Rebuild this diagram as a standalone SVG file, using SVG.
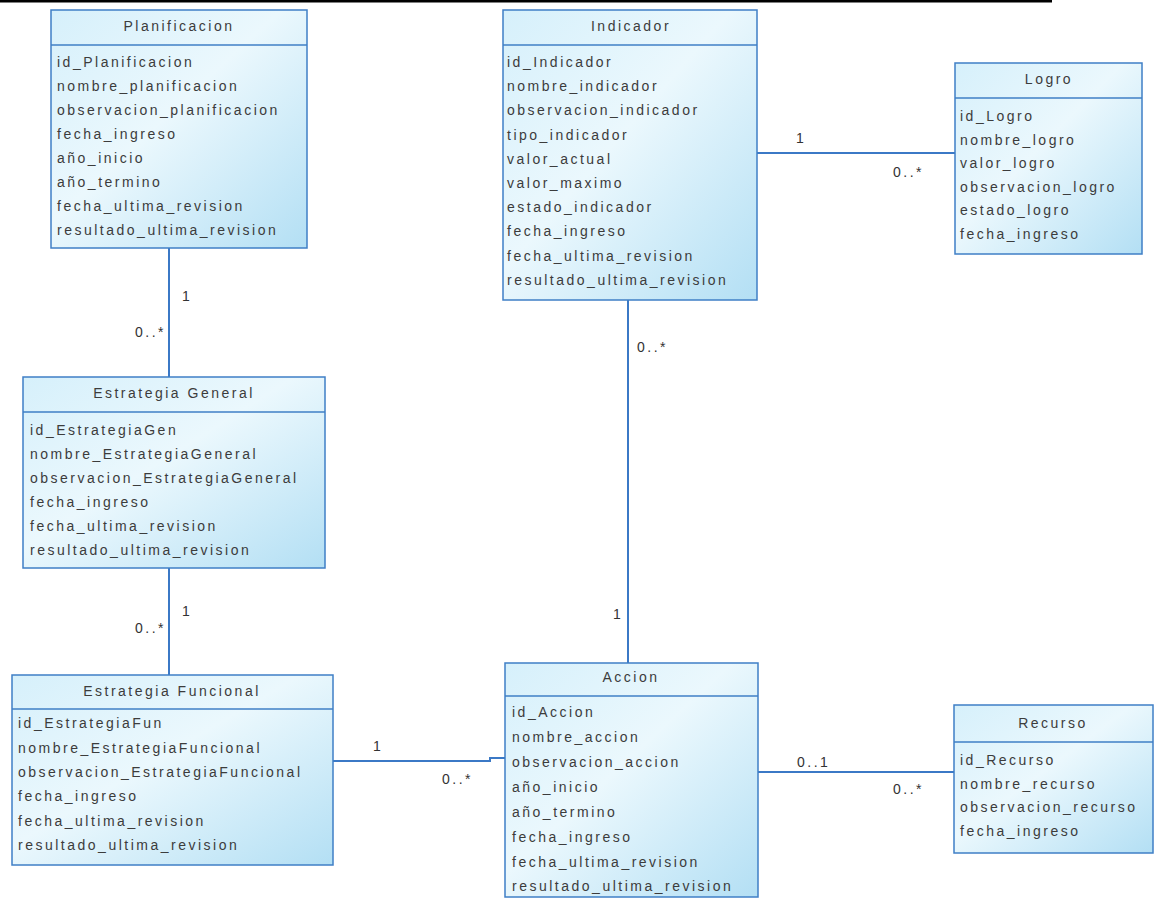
<svg xmlns="http://www.w3.org/2000/svg" width="1161" height="899" viewBox="0 0 1161 899">
<defs>
<linearGradient id="fill" x1="0" y1="0" x2="1" y2="1">
<stop offset="0" stop-color="#d6f0fb"/>
<stop offset="0.45" stop-color="#ebf8fd"/>
<stop offset="1" stop-color="#b3dff4"/>
</linearGradient>
<style>
.box{fill:url(#fill);stroke:#3f7fc6;stroke-width:1.5}
.div{stroke:#3f7fc6;stroke-width:1.5}
.con{fill:none;stroke:#3b79c6;stroke-width:2}
text{font-family:"Liberation Sans",Arial,sans-serif;font-size:14px;fill:#3c3c3c;letter-spacing:2.5px}
.h{text-anchor:middle}
.lbl{font-size:14px;fill:#333}
</style>
</defs>
<rect width="1161" height="899" fill="#ffffff"/>
<rect x="0" y="0" width="1052" height="2.5" fill="#000"/>

<g id="connectors">
<path class="con" d="M169 248V377"/>
<path class="con" d="M169 568V675"/>
<path class="con" d="M757 153H955"/>
<path class="con" d="M628 300V663"/>
<path class="con" d="M333 761H490V758H505"/>
<path class="con" d="M758 772H954"/>
<text class="lbl" x="182" y="301">1</text>
<text class="lbl" x="135" y="337">0..*</text>
<text class="lbl" x="182" y="616">1</text>
<text class="lbl" x="135" y="633">0..*</text>
<text class="lbl" x="796" y="143">1</text>
<text class="lbl" x="893" y="177">0..*</text>
<text class="lbl" x="637" y="352">0..*</text>
<text class="lbl" x="613" y="619">1</text>
<text class="lbl" x="373" y="751">1</text>
<text class="lbl" x="442" y="784">0..*</text>
<text class="lbl" x="797" y="767">0..1</text>
<text class="lbl" x="893" y="794">0..*</text>
</g>

<g id="planificacion">
<rect class="box" x="51" y="10" width="256" height="238"/>
<line class="div" x1="51" y1="45" x2="307" y2="45"/>
<text class="h" x="179" y="31">Planificacion</text>
<text x="57" y="67">id_Planificacion</text>
<text x="57" y="91">nombre_planificacion</text>
<text x="57" y="115">observacion_planificacion</text>
<text x="57" y="139">fecha_ingreso</text>
<text x="57" y="163">año_inicio</text>
<text x="57" y="187">año_termino</text>
<text x="57" y="211">fecha_ultima_revision</text>
<text x="57" y="235">resultado_ultima_revision</text>
</g>

<g id="indicador">
<rect class="box" x="503" y="10" width="254" height="290"/>
<line class="div" x1="503" y1="45" x2="757" y2="45"/>
<text class="h" x="631" y="31">Indicador</text>
<text x="507" y="67">id_Indicador</text>
<text x="507" y="91">nombre_indicador</text>
<text x="507" y="115">observacion_indicador</text>
<text x="507" y="140">tipo_indicador</text>
<text x="507" y="164">valor_actual</text>
<text x="507" y="188">valor_maximo</text>
<text x="507" y="212">estado_indicador</text>
<text x="507" y="236">fecha_ingreso</text>
<text x="507" y="261">fecha_ultima_revision</text>
<text x="507" y="285">resultado_ultima_revision</text>
</g>

<g id="logro">
<rect class="box" x="955" y="63" width="187" height="191"/>
<line class="div" x1="955" y1="98" x2="1142" y2="98"/>
<text class="h" x="1049" y="84">Logro</text>
<text x="960" y="121">id_Logro</text>
<text x="960" y="144.5">nombre_logro</text>
<text x="960" y="168">valor_logro</text>
<text x="960" y="191.5">observacion_logro</text>
<text x="960" y="215">estado_logro</text>
<text x="960" y="238.5">fecha_ingreso</text>
</g>

<g id="estrategia-general">
<rect class="box" x="23" y="377" width="302" height="191"/>
<line class="div" x1="23" y1="412" x2="325" y2="412"/>
<text class="h" x="174" y="398">Estrategia General</text>
<text x="30" y="435">id_EstrategiaGen</text>
<text x="30" y="459">nombre_EstrategiaGeneral</text>
<text x="30" y="483">observacion_EstrategiaGeneral</text>
<text x="30" y="507">fecha_ingreso</text>
<text x="30" y="531">fecha_ultima_revision</text>
<text x="30" y="555">resultado_ultima_revision</text>
</g>

<g id="estrategia-funcional">
<rect class="box" x="12" y="675" width="321" height="190"/>
<line class="div" x1="12" y1="709" x2="333" y2="709"/>
<text class="h" x="172" y="696">Estrategia Funcional</text>
<text x="18" y="728">id_EstrategiaFun</text>
<text x="18" y="752.5">nombre_EstrategiaFuncional</text>
<text x="18" y="777">observacion_EstrategiaFuncional</text>
<text x="18" y="801">fecha_ingreso</text>
<text x="18" y="825.5">fecha_ultima_revision</text>
<text x="18" y="850">resultado_ultima_revision</text>
</g>

<g id="accion">
<rect class="box" x="505" y="663" width="253" height="234"/>
<line class="div" x1="505" y1="696" x2="758" y2="696"/>
<text class="h" x="631" y="682">Accion</text>
<text x="512" y="717">id_Accion</text>
<text x="512" y="742">nombre_accion</text>
<text x="512" y="767">observacion_accion</text>
<text x="512" y="792">año_inicio</text>
<text x="512" y="817">año_termino</text>
<text x="512" y="842">fecha_ingreso</text>
<text x="512" y="867">fecha_ultima_revision</text>
<text x="512" y="891">resultado_ultima_revision</text>
</g>

<g id="recurso">
<rect class="box" x="954" y="705" width="199" height="148"/>
<line class="div" x1="954" y1="742" x2="1153" y2="742"/>
<text class="h" x="1053" y="728">Recurso</text>
<text x="960" y="765">id_Recurso</text>
<text x="960" y="788.5">nombre_recurso</text>
<text x="960" y="812">observacion_recurso</text>
<text x="960" y="835.5">fecha_ingreso</text>
</g>
</svg>
